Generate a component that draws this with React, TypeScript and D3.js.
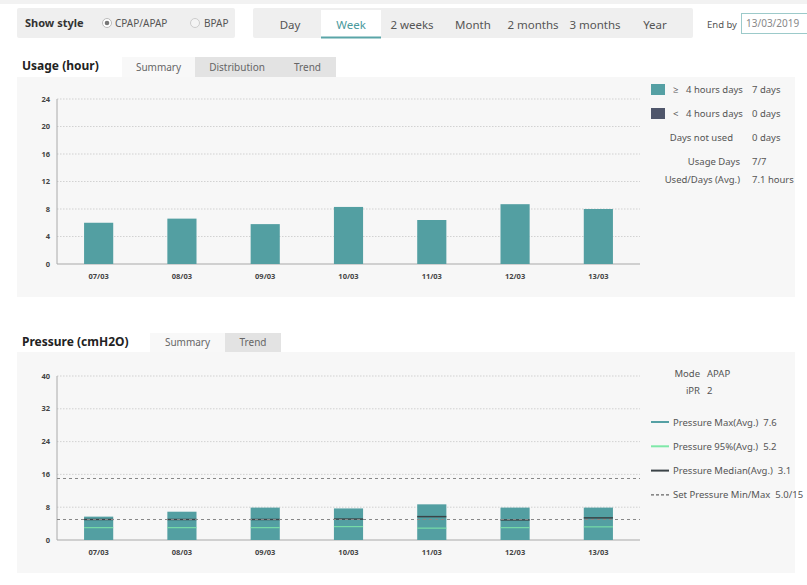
import React, { useEffect } from "react";
import * as d3 from "d3";

const days = ["07/03", "08/03", "09/03", "10/03", "11/03", "12/03", "13/03"];
const usageHours = [6.0, 6.6, 5.8, 8.3, 6.4, 8.7, 8.0];
const usageTicks = [0, 4, 8, 12, 16, 20, 24];

const pressureMax = [5.7, 6.9, 7.9, 7.7, 8.7, 7.9, 7.9];
const pressureMedian = [5.0, 5.0, 5.0, 5.1, 5.7, 4.9, 5.4];
const pressure95 = [3.0, 3.0, 3.0, 3.25, 2.9, 3.0, 3.2];
const pressureTicks = [0, 8, 16, 24, 32, 40];
const setPressure = [5.0, 15];

const periods = ["Day", "Week", "2 weeks", "Month", "2 months", "3 months", "Year"];
const periodX = [290, 351, 412, 473, 533, 595, 655];

const usageLegend = [
  { sym: "≥", label: "4 hours days", value: "7 days", color: "#55a0a4" },
  { sym: "<", label: "4 hours days", value: "0 days", color: "#4f566b" },
];
const usageStats = [
  { label: "Days not used", value: "0 days" },
  { label: "Usage  Days", value: "7/7" },
  { label: "Used/Days (Avg.)", value: "7.1 hours" },
];
const pressureLegend = [
  { label: "Pressure Max(Avg.)", value: "7.6", color: "#55a0a4", dash: "" },
  { label: "Pressure 95%(Avg.)", value: "5.2", color: "#7ee8a8", dash: "" },
  { label: "Pressure Median(Avg.)", value: "3.1", color: "#3b4347", dash: "" },
  { label: "Set Pressure Min/Max", value: "5.0/15", color: "#666", dash: "3,2" },
];

const FONT = "'Noto Sans', 'Open Sans', sans-serif";
const TEAL = "#539fa2";
const TXT = "#555";

const x = d3.scaleBand().domain(days).range([57, 640]);
const barW = x.bandwidth() * 0.35;
const cx = (d: string) => (x(d) as number) + x.bandwidth() / 2;

const yU = d3.scaleLinear().domain([0, 24]).range([264, 99]);
const yP = d3.scaleLinear().domain([0, 40]).range([540, 376]);

const Axes = ({ y, ticks, top, bottom }: any) => (
  <g>
    {ticks.map((t: number) => (
      <g key={t}>
        {t > 0 && (
          <line x1={57} x2={640} y1={y(t)} y2={y(t)} stroke="#c8c8c8" strokeWidth={0.8} strokeDasharray="1.5,1.5" />
        )}
        <text x={50} y={y(t) + 2.5} textAnchor="end" fontSize={7.5} fontWeight="bold" fill="#444" fontFamily={FONT}>
          {t}
        </text>
      </g>
    ))}
    <line x1={57} x2={57} y1={top} y2={bottom} stroke="#aaa" strokeWidth={1} />
    <line x1={57} x2={640} y1={bottom} y2={bottom} stroke="#aaa" strokeWidth={1.2} />
    {days.map((d) => (
      <text key={d} x={cx(d)} y={bottom + 15} textAnchor="middle" fontSize={7.5} fontWeight="bold" fill="#444" fontFamily={FONT}>
        {d}
      </text>
    ))}
  </g>
);

const Tab = ({ x0, y0, w, h, label, active }: any) => (
  <g>
    <rect x={x0} y={y0} width={w} height={h} fill={active ? "#f8f8f8" : "#e3e3e3"} />
    <text x={x0 + w / 2} y={y0 + h / 2 + 3.5} textAnchor="middle" fontSize={10} fill="#666" fontFamily={FONT}>
      {label}
    </text>
  </g>
);

export default function App() {
  useEffect(() => {
    document.body.style.margin = "0";
  }, []);

  return (
    <svg width={807} height={585} style={{ display: "block", background: "#fff" }} fontFamily={FONT}>
      <rect x={0} y={0} width={807} height={4} fill="#f2f2f2" />

      {/* header: show style */}
      <rect x={17} y={8} width={218} height={30} fill="#efefef" rx={2} />
      <text x={25} y={27} fontSize={11} fontWeight="bold" fill="#333">Show style</text>
      <circle cx={107} cy={23} r={4.5} fill="#fff" stroke="#bbb" />
      <circle cx={107} cy={23} r={2.3} fill="#777" />
      <text x={115} y={27} fontSize={10} fill={TXT}>CPAP/APAP</text>
      <circle cx={195} cy={23} r={4.5} fill="#f4f4f4" stroke="#ccc" />
      <text x={204} y={27} fontSize={10} fill={TXT}>BPAP</text>

      {/* header: periods */}
      <rect x={253} y={8} width={440} height={30} fill="#efefef" rx={2} />
      <rect x={321} y={10} width={60} height={28} fill="#fff" />
      <rect x={321} y={36.5} width={60} height={2} fill="#5aa5a8" />
      {periods.map((p, i) => (
        <text key={p} x={periodX[i]} y={29} textAnchor="middle" fontSize={11.5} fill={p === "Week" ? "#4a9a9d" : "#555"}>
          {p}
        </text>
      ))}
      <text x={707} y={28} fontSize={9.5} fill={TXT}>End by</text>
      <rect x={741.5} y={13.5} width={70} height={20} fill="#fff" stroke="#9ccaca" />
      <text x={746} y={27} fontSize={10} fill="#888">13/03/2019</text>

      {/* usage section */}
      <text x={22} y={70} fontSize={12} fontWeight="bold" fill="#222">Usage (hour)</text>
      <rect x={17} y={77} width={778} height={220} fill="#f7f7f7" />
      <Tab x0={122} y0={57} w={73} h={20} label="Summary" active />
      <Tab x0={195} y0={57} w={84} h={20} label="Distribution" />
      <Tab x0={279} y0={57} w={57} h={20} label="Trend" />

      <Axes y={yU} ticks={usageTicks} top={99} bottom={264} />
      {days.map((d, i) => (
        <rect key={d} x={cx(d) - barW / 2} y={yU(usageHours[i])} width={barW} height={yU(0) - yU(usageHours[i])} fill={TEAL} />
      ))}

      {usageLegend.map((l, i) => (
        <g key={l.sym} fontSize={9.5} fill={TXT}>
          <rect x={651} y={84 + i * 24} width={14} height={11} fill={l.color} />
          <text x={673} y={93 + i * 24}>{l.sym}</text>
          <text x={686} y={93 + i * 24}>{l.label}</text>
          <text x={752} y={93 + i * 24}>{l.value}</text>
        </g>
      ))}
      {usageStats.map((s, i) => (
        <g key={s.label} fontSize={9.5} fill={TXT}>
          <text x={i === 0 ? 733 : 740} y={[141, 165, 183][i]} textAnchor="end">{s.label}</text>
          <text x={752} y={[141, 165, 183][i]}>{s.value}</text>
        </g>
      ))}

      {/* pressure section */}
      <text x={22} y={346} fontSize={12} fontWeight="bold" fill="#222">Pressure (cmH2O)</text>
      <rect x={17} y={352} width={778} height={221} fill="#f7f7f7" />
      <Tab x0={150} y0={333} w={75} h={19} label="Summary" active />
      <Tab x0={225} y0={333} w={56} h={19} label="Trend" />

      <Axes y={yP} ticks={pressureTicks} top={376} bottom={540} />
      {days.map((d, i) => (
        <g key={d}>
          <rect x={cx(d) - barW / 2} y={yP(pressureMax[i])} width={barW} height={yP(0) - yP(pressureMax[i])} fill={TEAL} />
          <line x1={cx(d) - barW / 2} x2={cx(d) + barW / 2} y1={yP(pressure95[i])} y2={yP(pressure95[i])} stroke="#7ee8a8" strokeWidth={1} />
          <line x1={cx(d) - barW / 2} x2={cx(d) + barW / 2} y1={yP(pressureMedian[i])} y2={yP(pressureMedian[i])} stroke="#3b4347" strokeWidth={1.5} />
        </g>
      ))}
      {setPressure.map((v) => (
        <line key={v} x1={57} x2={640} y1={yP(v)} y2={yP(v)} stroke="#888" strokeWidth={1} strokeDasharray="3,3" />
      ))}

      <g fontSize={9.5} fill={TXT}>
        <text x={700} y={377} textAnchor="end">Mode</text>
        <text x={707} y={377}>APAP</text>
        <text x={700} y={394} textAnchor="end">iPR</text>
        <text x={707} y={394}>2</text>
      </g>
      {pressureLegend.map((l, i) => (
        <g key={l.label} fontSize={9.5} fill={TXT}>
          <line x1={651} x2={669} y1={422 + i * 24.3} y2={422 + i * 24.3} stroke={l.color} strokeWidth={l.dash ? 1.2 : 2} strokeDasharray={l.dash} />
          <text x={673} y={425.5 + i * 24.3}>
            {l.label}
            <tspan dx={5}>{l.value}</tspan>
          </text>
        </g>
      ))}
    </svg>
  );
}
